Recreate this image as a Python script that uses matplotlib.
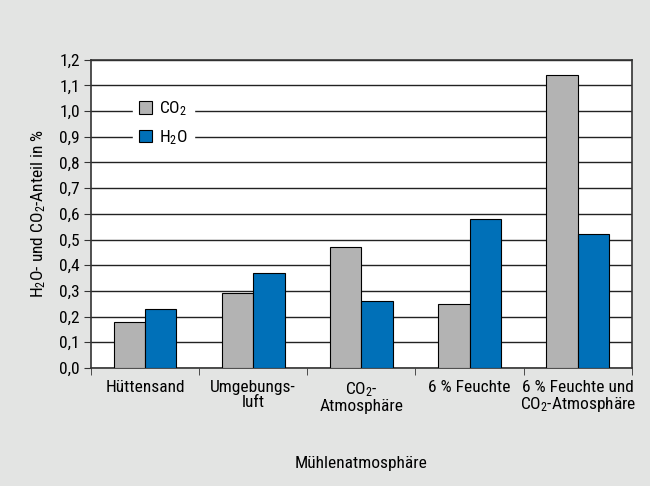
import matplotlib
matplotlib.use("Agg")
import matplotlib.pyplot as plt
import numpy as np

plt.rcParams['font.family'] = ['Roboto Condensed', 'DejaVu Sans']
plt.rcParams['mathtext.fontset'] = 'custom'
plt.rcParams['mathtext.rm'] = 'Roboto Condensed'
plt.rcParams['mathtext.it'] = 'Roboto Condensed'

# Data
categories = ['Hüttensand', 'Umgebungs-\nluft', 'CO$_2$-\nAtmosphäre',
              '6 % Feuchte', '6 % Feuchte und\nCO$_2$-Atmosphäre']
co2 = [0.18, 0.29, 0.47, 0.25, 1.14]
h2o = [0.23, 0.37, 0.26, 0.58, 0.52]
yticks = [0.0, 0.1, 0.2, 0.3, 0.4, 0.5, 0.6, 0.7, 0.8, 0.9, 1.0, 1.1, 1.2]

bg = '#e3e4e3'
gray = '#b3b3b3'
blue = '#0070b8'

fig = plt.figure(figsize=(6.5, 4.86), dpi=100, facecolor=bg)
ax = fig.add_axes([0.14, 0.243, 0.832, 0.634])
ax.set_facecolor('white')

x = np.arange(len(categories))
w = 0.29
ax.bar(x - w / 2, co2, w, color=gray, edgecolor='black', linewidth=0.8, label='CO$_2$', zorder=3)
ax.bar(x + w / 2, h2o, w, color=blue, edgecolor='black', linewidth=0.8, label='H$_2$O', zorder=3)

ax.set_ylim(0, 1.2)
ax.set_xlim(-0.5, len(categories) - 0.5)
ax.set_yticks(yticks)
ax.set_yticklabels([f'{v:.1f}'.replace('.', ',') for v in yticks], fontsize=12.5)
ax.yaxis.grid(True, color='#222222', linewidth=1.0, zorder=0)
ax.set_axisbelow(True)

# category labels centred, ticks on the category boundaries
ax.set_xticks(x)
ax.set_xticklabels(categories, fontsize=12.5, linespacing=1.0)
ax.tick_params(axis='x', length=0, pad=9)
ax.set_xticks(np.arange(-0.5, len(categories), 1.0), minor=True)
ax.tick_params(axis='x', which='minor', length=5, direction='out', color='#333333')
ax.tick_params(axis='y', length=5, direction='out', color='#333333', pad=3)

for s in ax.spines.values():
    s.set_color('#333333')
    s.set_linewidth(1.2)

ax.set_ylabel('H$_2$O- und CO$_2$-Anteil in %', fontsize=12.5, labelpad=8)
ax.set_xlabel('Mühlenatmosphäre', fontsize=12.5, labelpad=30)

leg = ax.legend(loc='center left', bbox_to_anchor=(0.077, 0.794), frameon=True,
                fontsize=12.5, handlelength=0.75, handleheight=0.75,
                handletextpad=0.4, borderpad=0.35, labelspacing=0.55, borderaxespad=0)
leg.get_frame().set_facecolor('white')
leg.get_frame().set_edgecolor('white')
leg.get_frame().set_boxstyle('square', pad=0.0)
leg.get_frame().set_alpha(1.0)

fig.savefig('out.png', dpi=100, facecolor=bg)
